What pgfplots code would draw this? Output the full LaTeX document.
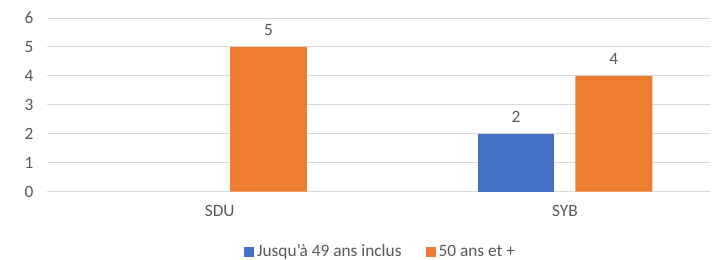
\documentclass[border=0pt]{standalone}
\usepackage{pgfplots}
\pgfplotsset{compat=1.18}
\usepackage{fontspec}
\setmainfont{Carlito}
\definecolor{cblue}{HTML}{4472C4}
\definecolor{corange}{HTML}{ED7D31}
\definecolor{cgrid}{HTML}{D9D9D9}
\definecolor{ctext}{HTML}{595959}
\begin{document}
\begin{tikzpicture}[x=1pt,y=1pt]
\useasboundingbox (0,0) rectangle (713,260);
\begin{axis}[
  at={(47pt,68.3pt)}, anchor=south west,
  scale only axis, width=663pt, height=173.7pt,
  ymin=0, ymax=6, ytick={0,1,...,6},
  xmin=-0.5, xmax=1.42,
  xtick={0,1}, xticklabels={SDU,SYB},
  ymajorgrids, grid style={cgrid, line width=1pt},
  axis line style={draw=none}, major tick length=0pt,
  tick label style={font=\fontsize{17.3}{20}\selectfont, text=ctext},
  /pgf/number format/assume math mode=true,
  yticklabel style={xshift=-10pt},
  xticklabel style={yshift=-10pt},
  ybar, bar width=0.2225,
  nodes near coords,
  every node near coord/.append style={font=\fontsize{17.3}{20}\selectfont, text=ctext, yshift=7.5pt},
  legend style={at={(0.503,-0.345)}, anchor=center, draw=none, legend columns=2,
    font=\fontsize{17.3}{20}\selectfont, text=ctext,
    /tikz/every odd column/.append style={column sep=1pt},
    /tikz/every even column/.append style={column sep=22pt}},
  legend image code/.code={\fill[#1] (0pt,-5pt) rectangle (10pt,5pt);},
  clip=false,
]
\addplot[fill=cblue, draw=none, bar shift=-0.1416] coordinates {(1,2)};
\addplot[fill=corange, draw=none, bar shift=0.1416] coordinates {(0,5) (1,4)};
\legend{Jusqu'à 49 ans inclus, 50 ans et +}
\end{axis}
\end{tikzpicture}
\end{document}
